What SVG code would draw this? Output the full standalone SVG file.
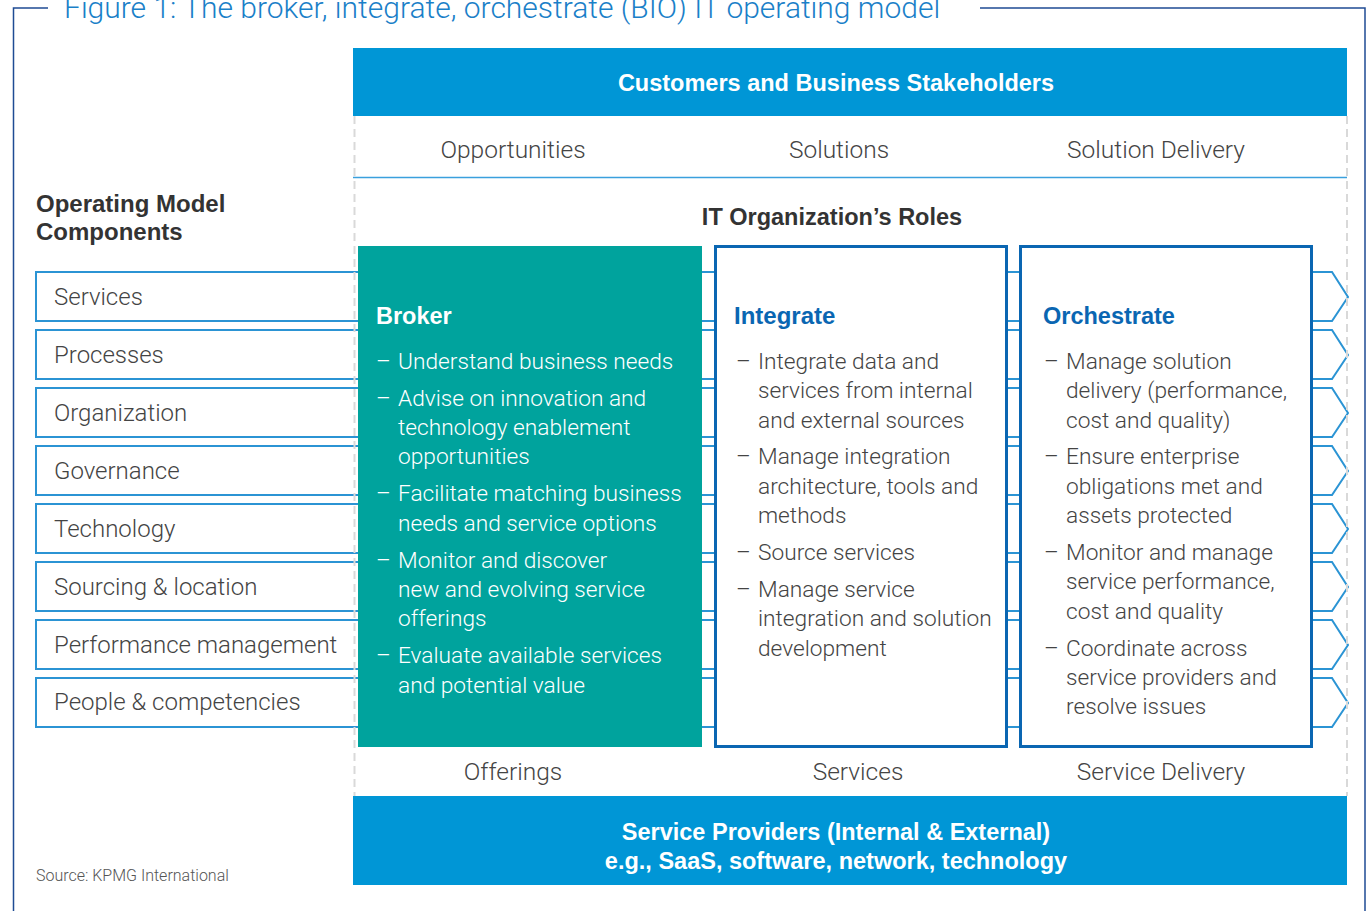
<svg xmlns="http://www.w3.org/2000/svg" width="1371" height="911" viewBox="0 0 1371 911">
<style>
.frame{fill:none;stroke:#1f4b94;stroke-width:1.5}
.bar{fill:#0096d6}
.row{fill:#fff;stroke:#2b94d4;stroke-width:2}
.dash{stroke:#d9d9d9;stroke-width:2;stroke-dasharray:8 5;fill:none}
.role{fill:#fff;stroke:#0a66b2;stroke-width:3}
.t{font-family:Roboto,"Liberation Sans",sans-serif;font-weight:300;fill:#444}
.b{font-family:"Liberation Sans",Arial,sans-serif;font-weight:700;font-size:23.5px}
.w{fill:#fff}
.blue{fill:#0a66b2}
.comp{font-size:24px}
.flow{font-size:24.5px}
.body{font-size:22.7px}
</style>
<rect width="1371" height="911" fill="#fff"/>
<g id="frame">
<polyline class="frame" points="48,8 13.5,8 13.5,911"/>
<polyline class="frame" points="980,8 1365,8 1365,911"/>
<text x="64" y="18" class="t" style="fill:#1a80c8;font-size:30px">Figure 1: The broker, integrate, orchestrate (BIO) IT operating model</text>
</g>
<g id="components">
<text x="36" y="212" class="b" style="fill:#333;font-size:24px">Operating Model</text>
<text x="36" y="240" class="b" style="fill:#333;font-size:24px">Components</text>
<g id="row-services"><polygon class="row" points="36,272 1332,272 1348,297 1332,321 36,321"/><text x="54" y="305" class="t comp">Services</text></g>
<g id="row-processes"><polygon class="row" points="36,330 1332,330 1348,355 1332,379 36,379"/><text x="54" y="363" class="t comp">Processes</text></g>
<g id="row-organization"><polygon class="row" points="36,388 1332,388 1348,413 1332,437 36,437"/><text x="54" y="421" class="t comp">Organization</text></g>
<g id="row-governance"><polygon class="row" points="36,446 1332,446 1348,471 1332,495 36,495"/><text x="54" y="479" class="t comp">Governance</text></g>
<g id="row-technology"><polygon class="row" points="36,504 1332,504 1348,529 1332,553 36,553"/><text x="54" y="537" class="t comp">Technology</text></g>
<g id="row-sourcing"><polygon class="row" points="36,562 1332,562 1348,587 1332,611 36,611"/><text x="54" y="595" class="t comp">Sourcing &amp; location</text></g>
<g id="row-performance"><polygon class="row" points="36,620 1332,620 1348,645 1332,669 36,669"/><text x="54" y="653" class="t comp">Performance management</text></g>
<g id="row-people"><polygon class="row" points="36,678 1332,678 1348,703 1332,727 36,727"/><text x="54" y="710" class="t comp">People &amp; competencies</text></g>
</g>
<g id="connectors">
<line class="dash" x1="354.5" y1="116" x2="354.5" y2="796"/>
<line class="dash" x1="1347" y1="116" x2="1347" y2="796"/>
<line x1="353" y1="177.5" x2="1347" y2="177.5" stroke="#3aa0dd" stroke-width="1.5"/>
</g>
<g id="customers">
<rect class="bar" x="353" y="48" width="994" height="68"/>
<text x="836" y="91" text-anchor="middle" class="b w">Customers and Business Stakeholders</text>
</g>
<g id="flow-top">
<text x="513" y="158" text-anchor="middle" class="t flow">Opportunities</text>
<text x="839" y="158" text-anchor="middle" class="t flow">Solutions</text>
<text x="1156" y="158" text-anchor="middle" class="t flow">Solution Delivery</text>
<text x="832" y="225" text-anchor="middle" class="b" style="fill:#333">IT Organization’s Roles</text>
</g>
<g id="broker">
<rect x="358" y="246" width="344" height="501" fill="#00a39d"/>
<text x="376" y="324" class="b w">Broker</text>
<g class="t body" style="fill:#fff">
<text x="376" y="369">–</text><text x="398" y="369">Understand business needs</text>
<text x="376" y="406">–</text><text x="398" y="406">Advise on innovation and</text>
<text x="398" y="435">technology enablement</text>
<text x="398" y="464">opportunities</text>
<text x="376" y="501">–</text><text x="398" y="501">Facilitate matching business</text>
<text x="398" y="531">needs and service options</text>
<text x="376" y="568">–</text><text x="398" y="568">Monitor and discover</text>
<text x="398" y="597">new and evolving service</text>
<text x="398" y="626">offerings</text>
<text x="376" y="663">–</text><text x="398" y="663">Evaluate available services</text>
<text x="398" y="693">and potential value</text>
</g>
</g>
<g id="integrate">
<rect class="role" x="715.5" y="246.5" width="291" height="500"/>
<text x="734" y="324" class="b blue" style="font-size:24px">Integrate</text>
<g class="t body">
<text x="736" y="369">–</text><text x="758" y="369">Integrate data and</text>
<text x="758" y="398">services from internal</text>
<text x="758" y="428">and external sources</text>
<text x="736" y="464">–</text><text x="758" y="464">Manage integration</text>
<text x="758" y="494">architecture, tools and</text>
<text x="758" y="523">methods</text>
<text x="736" y="560">–</text><text x="758" y="560">Source services</text>
<text x="736" y="597">–</text><text x="758" y="597">Manage service</text>
<text x="758" y="626">integration and solution</text>
<text x="758" y="656">development</text>
</g>
</g>
<g id="orchestrate">
<rect class="role" x="1020.5" y="246.5" width="291" height="500"/>
<text x="1043" y="324" class="b blue">Orchestrate</text>
<g class="t body">
<text x="1044" y="369">–</text><text x="1066" y="369">Manage solution</text>
<text x="1066" y="398">delivery (performance,</text>
<text x="1066" y="428">cost and quality)</text>
<text x="1044" y="464">–</text><text x="1066" y="464">Ensure enterprise</text>
<text x="1066" y="494">obligations met and</text>
<text x="1066" y="523">assets protected</text>
<text x="1044" y="560">–</text><text x="1066" y="560">Monitor and manage</text>
<text x="1066" y="589">service performance,</text>
<text x="1066" y="619">cost and quality</text>
<text x="1044" y="656">–</text><text x="1066" y="656">Coordinate across</text>
<text x="1066" y="685">service providers and</text>
<text x="1066" y="714">resolve issues</text>
</g>
</g>
<g id="flow-bottom">
<text x="513" y="780" text-anchor="middle" class="t flow">Offerings</text>
<text x="858" y="780" text-anchor="middle" class="t flow">Services</text>
<text x="1161" y="780" text-anchor="middle" class="t flow">Service Delivery</text>
</g>
<g id="providers">
<rect class="bar" x="353" y="796" width="994" height="89"/>
<text x="836" y="840" text-anchor="middle" class="b w">Service Providers (Internal &amp; External)</text>
<text x="836" y="869" text-anchor="middle" class="b w">e.g., SaaS, software, network, technology</text>
</g>
<text x="36" y="881" class="t" style="fill:#555;font-size:16px">Source: KPMG International</text>
</svg>
